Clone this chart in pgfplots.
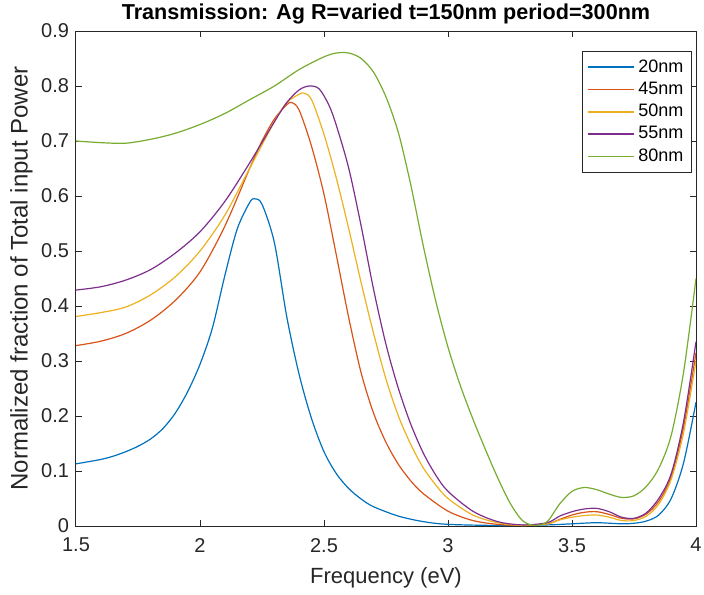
\documentclass[border=0pt]{standalone}
\usepackage{pgfplots}
\pgfplotsset{compat=1.18}
\usepackage{fontspec}
\setmainfont{Liberation Sans}
\definecolor{c1}{rgb}{0,0.447,0.741}
\definecolor{c2}{rgb}{0.85,0.325,0.098}
\definecolor{c3}{rgb}{0.929,0.694,0.125}
\definecolor{c4}{rgb}{0.494,0.184,0.556}
\definecolor{c5}{rgb}{0.466,0.674,0.188}
\definecolor{axc}{rgb}{0.15,0.15,0.15}
\begin{document}
\begin{tikzpicture}
\useasboundingbox (-38pt,-34pt) rectangle (314pt,263pt);
\begin{axis}[
  at={(0,0)}, anchor=south west,
  scale only axis, width=310pt, height=247.5pt,
  xmin=1.5, xmax=4, ymin=0, ymax=0.9,
  xtick={1.5,2,2.5,3,3.5,4}, ytick={0,0.1,...,0.9},
  xticklabels={1.5,2,2.5,3,3.5,4},
  yticklabels={0,0.1,0.2,0.3,0.4,0.5,0.6,0.7,0.8,0.9},
  tick align=inside, major tick length=3pt,
  axis line style={axc, line width=0.5pt},
  every tick/.style={axc, line width=0.5pt},
  tick label style={font=\fontsize{10}{12}\selectfont, text=axc},
  xticklabel style={yshift=-2.5pt},
  /pgf/number format/assume math mode=true,
  every axis title shift=0pt,
  title={\bfseries Transmission: Ag R=varied t=150nm period=300nm},
  title style={font=\fontsize{10.8}{13}\selectfont, at={(axis description cs:0.5,1)}, anchor=south, yshift=0pt},
  xlabel={Frequency (eV)},
  ylabel={Normalized fraction of Total input Power},
  xlabel style={font=\fontsize{11}{13}\selectfont, text=axc, at={(axis description cs:0.5,-0.105)}, anchor=center},
  ylabel style={font=\fontsize{12}{14}\selectfont, text=axc, at={(axis description cs:-0.088,0.5)}, anchor=center, rotate=0},
  legend style={at={(axis description cs:0.9935,0.9596)}, anchor=north east, draw=axc, line width=0.5pt, font=\fontsize{9}{10}\selectfont, inner sep=2pt, row sep=-0.6pt, cells={anchor=west}},
  legend image code/.code={\draw[#1, line width=0.8pt] (0pt,0pt) -- (23pt,0pt);},
  every axis plot/.append style={line width=0.6pt, smooth, tension=0.5},
]
\addplot[c1] coordinates {
(1.5,0.113)(1.6,0.121)(1.65,0.127)(1.7,0.135)(1.75,0.145)(1.8,0.158)(1.85,0.177)(1.9,0.205)(1.95,0.244)(2.0,0.294)(2.05,0.36)(2.1,0.455)(2.15,0.54)(2.2,0.588)(2.22,0.595)(2.25,0.585)(2.3,0.515)(2.35,0.38)(2.4,0.275)(2.45,0.195)(2.5,0.135)(2.55,0.095)(2.6,0.068)(2.65,0.049)(2.7,0.035)(2.8,0.018)(2.9,0.008)(3.0,0.003)(3.2,0.001)(3.4,0.002)(3.5,0.004)(3.6,0.006)(3.7,0.004)(3.75,0.005)(3.8,0.009)(3.85,0.02)(3.9,0.05)(3.95,0.115)(4.0,0.225)};
\addlegendentry{20nm}
\addplot[c2] coordinates {
(1.5,0.328)(1.6,0.336)(1.7,0.350)(1.8,0.374)(1.9,0.410)(2.0,0.462)(2.1,0.545)(2.2,0.650)(2.25,0.700)(2.3,0.740)(2.35,0.766)(2.37,0.770)(2.4,0.756)(2.45,0.690)(2.5,0.603)(2.55,0.492)(2.6,0.378)(2.65,0.278)(2.7,0.205)(2.75,0.152)(2.8,0.112)(2.85,0.082)(2.9,0.059)(3.0,0.027)(3.1,0.010)(3.2,0.003)(3.3,0.001)(3.4,0.004)(3.45,0.012)(3.5,0.020)(3.55,0.025)(3.6,0.026)(3.65,0.021)(3.7,0.014)(3.75,0.013)(3.8,0.022)(3.85,0.045)(3.9,0.09)(3.95,0.18)(4.0,0.315)};
\addlegendentry{45nm}
\addplot[c3] coordinates {
(1.5,0.381)(1.6,0.388)(1.7,0.398)(1.8,0.420)(1.9,0.453)(2.0,0.500)(2.1,0.565)(2.2,0.650)(2.3,0.735)(2.35,0.770)(2.4,0.785)(2.42,0.787)(2.45,0.775)(2.5,0.712)(2.55,0.632)(2.6,0.540)(2.65,0.442)(2.7,0.350)(2.75,0.267)(2.8,0.200)(2.85,0.148)(2.9,0.106)(2.95,0.075)(3.0,0.050)(3.1,0.020)(3.2,0.006)(3.3,0.001)(3.4,0.004)(3.45,0.011)(3.5,0.016)(3.55,0.019)(3.6,0.020)(3.65,0.016)(3.7,0.010)(3.75,0.010)(3.8,0.018)(3.85,0.040)(3.9,0.085)(3.95,0.17)(4.0,0.30)};
\addlegendentry{50nm}
\addplot[c4] coordinates {
(1.5,0.429)(1.6,0.435)(1.7,0.447)(1.8,0.466)(1.9,0.496)(2.0,0.535)(2.1,0.590)(2.2,0.660)(2.3,0.735)(2.35,0.770)(2.4,0.793)(2.44,0.800)(2.48,0.795)(2.52,0.765)(2.55,0.728)(2.6,0.650)(2.65,0.545)(2.7,0.430)(2.75,0.330)(2.8,0.250)(2.85,0.185)(2.9,0.133)(2.95,0.093)(3.0,0.063)(3.1,0.027)(3.2,0.008)(3.3,0.002)(3.4,0.006)(3.45,0.018)(3.5,0.026)(3.55,0.031)(3.6,0.032)(3.65,0.026)(3.7,0.016)(3.75,0.014)(3.8,0.024)(3.85,0.050)(3.9,0.095)(3.95,0.19)(4.0,0.335)};
\addlegendentry{55nm}
\addplot[c5] coordinates {
(1.5,0.700)(1.6,0.697)(1.7,0.696)(1.8,0.703)(1.9,0.714)(2.0,0.730)(2.1,0.750)(2.2,0.775)(2.3,0.800)(2.4,0.830)(2.5,0.853)(2.55,0.860)(2.6,0.860)(2.65,0.850)(2.7,0.825)(2.75,0.780)(2.8,0.715)(2.85,0.620)(2.9,0.510)(2.95,0.410)(3.0,0.325)(3.05,0.255)(3.1,0.195)(3.15,0.140)(3.2,0.088)(3.25,0.042)(3.3,0.010)(3.35,0.001)(3.4,0.008)(3.45,0.040)(3.5,0.063)(3.55,0.070)(3.6,0.066)(3.65,0.058)(3.7,0.052)(3.75,0.055)(3.8,0.072)(3.85,0.105)(3.9,0.165)(3.95,0.28)(4.0,0.45)};
\addlegendentry{80nm}
\end{axis}
\end{tikzpicture}
\end{document}
